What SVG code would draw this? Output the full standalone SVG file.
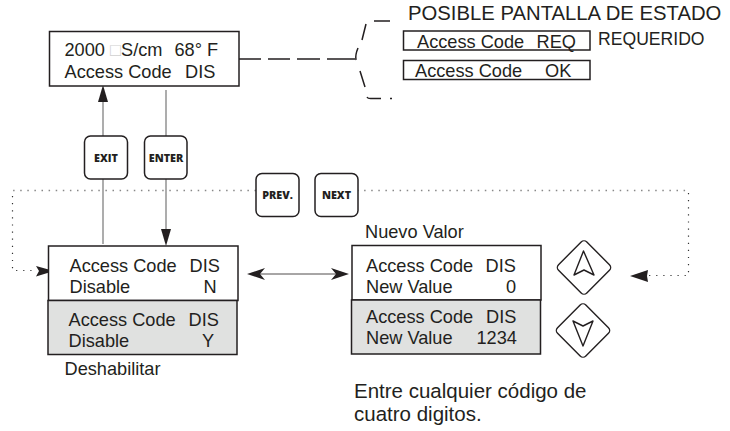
<svg xmlns="http://www.w3.org/2000/svg" width="730" height="431" viewBox="0 0 730 431">
<style>
text{font-family:"Liberation Sans",Arial,sans-serif;font-size:18.2px;fill:#231f20}
.box{fill:#fff;stroke:#231f20;stroke-width:1.5}
.grey{fill:#e0e1e0;stroke:#231f20;stroke-width:1.5}
.btn{fill:#fff;stroke:#231f20;stroke-width:1.5}
.bt{font-family:"Open Sans",sans-serif;font-weight:800;font-size:10.8px;text-anchor:middle}
.line{fill:none;stroke:#777;stroke-width:1.2}
.thin{fill:none;stroke:#231f20;stroke-width:.8}
.dot{fill:none;stroke:#888;stroke-width:1.5;stroke-dasharray:1.5 5.6}
.dotv{fill:none;stroke:#333;stroke-width:1.2;stroke-dasharray:1.2 5.9}
.dash{fill:none;stroke:#231f20;stroke-width:1.5}
.head{fill:#231f20}
.key{fill:#fff;stroke:#231f20;stroke-width:1.4;stroke-linejoin:round}
</style>
<g id="connectors">
<path class="dot" d="M357 190.500H688"/>
<path class="dot" d="M256 190.500H12"/>
<path class="dotv" d="M688.500 193V275.500H648"/>
<path class="dotv" d="M12.500 196V270.500H36"/>
<path class="line" d="M103 100V136M103 179V244"/>
<path class="line" d="M166 90V136M166 179V232"/>
<path class="head" d="M103 85L108 102H98Z"/>
<path class="head" d="M166 246L161 229H171Z"/>
<path class="head" d="M54 271L36 266L39 271L36 276.500Z"/>
<path class="head" d="M630 276L648 270L647 276L648 282Z"/>
<path class="thin" d="M255 274H340"/>
<path class="head" d="M247 274L265 268L260 274L265 280Z"/>
<path class="head" d="M349 274L331 268L336 274L331 280Z"/>
<path class="dash" d="M238 59H261M268 59H290M297 59H320M327 59H355"/>
<path class="dash" d="M374 21H390M366 24L362 40M358 48Q355 55 356 60M360 71L365 87M367 97Q368 99 372 98.500H381M390 98.500H392"/>
</g>
<g id="top-display"><rect class="box" x="49.500" y="31.500" width="189.500" height="54.500"/>
<text x="64.500" y="56">2000 <tspan fill="#d0d0d0">□</tspan>S/cm</text><text x="174.500" y="56">68° F</text>
<text x="64.500" y="77.500">Access Code</text><text x="185" y="77.500">DIS</text></g>
<g id="status-title"><text x="408" y="20" style="font-size:20.300px">POSIBLE PANTALLA DE ESTADO</text></g>
<g id="status-req"><rect class="box" x="403.500" y="31" width="186.500" height="19"/>
<text x="417" y="48">Access Code</text><text x="536.500" y="48">REQ</text><text x="598" y="45" style="font-size:17.600px">REQUERIDO</text></g>
<g id="status-ok"><rect class="box" x="403.500" y="60.500" width="186.500" height="19"/>
<text x="415" y="77">Access Code</text><text x="545" y="77">OK</text></g>
<g id="btn-exit"><rect class="btn" x="84.500" y="136" width="43" height="43" rx="6"/><text class="bt" x="106" y="162">EXIT</text></g>
<g id="btn-enter"><rect class="btn" x="144.500" y="136" width="42.500" height="43" rx="6"/><text class="bt" x="166" y="162">ENTER</text></g>
<g id="btn-prev"><rect class="btn" x="256" y="173.500" width="43" height="43" rx="6"/><text class="bt" x="277.500" y="199">PREV.</text></g>
<g id="btn-next"><rect class="btn" x="315" y="173.500" width="43" height="43" rx="6"/><text class="bt" x="336.500" y="199">NEXT</text></g>
<g id="disable-n"><rect class="box" x="48.500" y="246" width="189.500" height="54.500"/>
<text x="69.500" y="272">Access Code</text><text x="189.500" y="272">DIS</text><text x="69.500" y="293">Disable</text><text x="203.500" y="293">N</text></g>
<g id="disable-y"><rect class="grey" x="48" y="300.500" width="189" height="54"/>
<text x="68.500" y="326">Access Code</text><text x="188.500" y="326">DIS</text><text x="68.500" y="347">Disable</text><text x="202" y="347">Y</text></g>
<text id="label-deshabilitar" x="64.500" y="375">Deshabilitar</text>
<text id="label-nuevo" x="365" y="238">Nuevo Valor</text>
<g id="value-0"><rect class="box" x="352" y="245.500" width="189" height="54.500"/>
<text x="366" y="271.500">Access Code</text><text x="485.500" y="271.500">DIS</text><text x="366" y="292.500">New Value</text><text x="506" y="292.500">0</text></g>
<g id="value-1234"><rect class="grey" x="351.500" y="300" width="189" height="54"/>
<text x="366" y="323">Access Code</text><text x="486" y="323">DIS</text><text x="366" y="344">New Value</text><text x="476.500" y="344">1234</text></g>
<g id="key-up"><rect class="key" x="-20" y="-20" width="40" height="40" rx="4" transform="translate(584 267.500) rotate(45)"/><path class="key" d="M583.500 251L574 275L584 270L594 275Z"/></g>
<g id="key-down"><rect class="key" x="-20" y="-20" width="40" height="40" rx="4" transform="translate(583 330.500) rotate(45)"/><path class="key" d="M583 346L573 321L583 326L593 321Z"/></g>
<text id="note-1" x="354" y="398" style="font-size:20.500px">Entre cualquier código de</text>
<text id="note-2" x="354" y="421" style="font-size:20.500px">cuatro digitos.</text>
</svg>
